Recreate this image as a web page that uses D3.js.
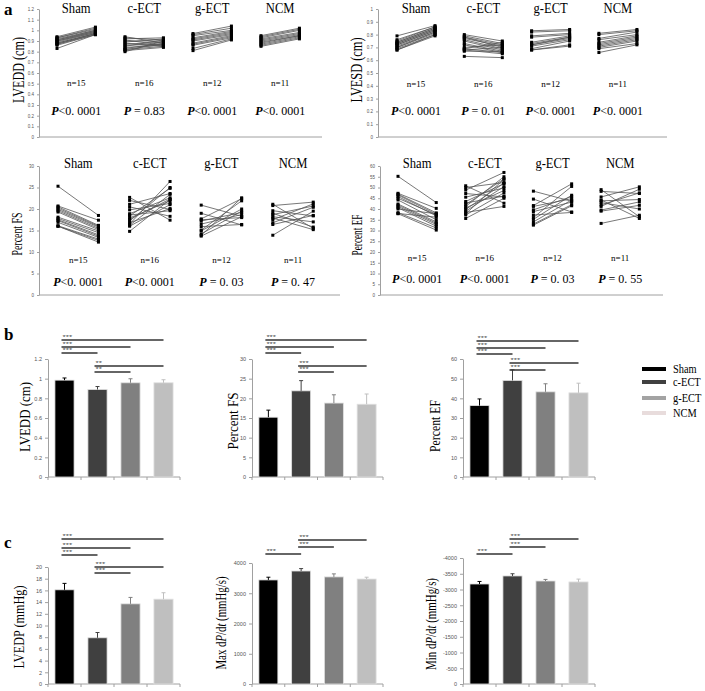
<!DOCTYPE html>
<html>
<head>
<meta charset="utf-8">
<script src="https://cdn.jsdelivr.net/npm/d3@7"></script>
<style>
body { margin: 0; background: #fff; }
svg { display: block; }
text { font-family: "Liberation Serif", "Times New Roman", serif; }
</style>
</head>
<body>
<svg width="705" height="691"></svg>
<script>
// groups and sample sizes
var groups = ["Sham", "c-ECT", "g-ECT", "NCM"];
var groupN = [15, 16, 12, 11];
var barColors = ["#000000", "#404040", "#808080", "#bfbfbf"];
var legendColors = ["#000000", "#404040", "#a3a3a3", "#e8dcdc"];

// panel a - paired values (before / after) per group
var lveddBefore = [
  [0.94, 0.93, 0.93, 0.92, 0.91, 0.91, 0.90, 0.90, 0.89, 0.88, 0.88, 0.87, 0.87, 0.86, 0.83],
  [0.94, 0.93, 0.92, 0.91, 0.90, 0.89, 0.88, 0.87, 0.86, 0.85, 0.84, 0.83, 0.82, 0.82, 0.81, 0.80],
  [0.97, 0.96, 0.95, 0.93, 0.92, 0.91, 0.90, 0.88, 0.87, 0.86, 0.83, 0.81],
  [0.95, 0.94, 0.93, 0.92, 0.91, 0.90, 0.89, 0.88, 0.87, 0.86, 0.85]
];
var lveddAfter = [
  [1.03, 1.02, 1.01, 1.00, 1.00, 0.99, 0.99, 0.98, 0.98, 0.97, 0.97, 0.97, 0.96, 0.96, 0.96],
  [0.88, 0.91, 0.93, 0.86, 0.90, 0.92, 0.85, 0.89, 0.87, 0.91, 0.86, 0.88, 0.87, 0.85, 0.84, 0.90],
  [1.04, 1.02, 1.00, 0.99, 0.98, 0.97, 0.96, 0.95, 0.94, 0.93, 0.92, 0.91],
  [1.02, 1.01, 1.00, 0.98, 0.97, 0.96, 0.95, 0.95, 0.94, 0.93, 0.92]
];
var lveddP = ["<0. 0001", " = 0.83", "<0. 0001", "<0. 0001"];

var lvesdBefore = [
  [0.79, 0.76, 0.75, 0.74, 0.74, 0.73, 0.73, 0.72, 0.72, 0.71, 0.70, 0.70, 0.69, 0.68, 0.68],
  [0.80, 0.79, 0.78, 0.78, 0.77, 0.76, 0.75, 0.73, 0.72, 0.70, 0.69, 0.69, 0.68, 0.68, 0.67, 0.63],
  [0.83, 0.82, 0.79, 0.78, 0.74, 0.73, 0.72, 0.72, 0.71, 0.69, 0.68, 0.68],
  [0.81, 0.80, 0.77, 0.76, 0.74, 0.73, 0.72, 0.71, 0.70, 0.69, 0.66]
];
var lvesdAfter = [
  [0.87, 0.86, 0.86, 0.85, 0.85, 0.84, 0.84, 0.83, 0.83, 0.82, 0.82, 0.81, 0.80, 0.80, 0.79],
  [0.75, 0.73, 0.72, 0.70, 0.71, 0.69, 0.68, 0.67, 0.66, 0.72, 0.74, 0.66, 0.70, 0.65, 0.67, 0.62],
  [0.84, 0.83, 0.81, 0.80, 0.79, 0.78, 0.78, 0.77, 0.76, 0.75, 0.72, 0.71],
  [0.84, 0.83, 0.82, 0.80, 0.79, 0.78, 0.77, 0.76, 0.75, 0.73, 0.72]
];
var lvesdP = ["<0. 0001", " = 0. 01", "<0. 0001", "<0. 0001"];

var fsBefore = [
  [25.3, 20.7, 20.5, 20.2, 19.9, 19.6, 19.3, 18.1, 17.8, 17.5, 17.3, 16.9, 16.1, 16.0, 16.0],
  [22.7, 22.0, 21.1, 20.5, 19.8, 18.9, 18.6, 18.4, 17.9, 17.6, 17.2, 16.8, 16.5, 16.2, 16.0, 14.8],
  [20.9, 19.0, 17.7, 17.5, 17.2, 16.5, 15.9, 15.1, 14.9, 14.2, 13.9, 13.7],
  [21.1, 20.8, 19.6, 19.0, 18.7, 18.2, 17.9, 17.5, 16.8, 16.4, 13.9]
];
var fsAfter = [
  [18.5, 17.4, 16.2, 16.0, 15.8, 15.5, 15.2, 14.9, 14.5, 14.0, 13.7, 13.4, 13.0, 12.7, 12.3],
  [17.4, 19.9, 23.6, 18.3, 21.3, 22.6, 19.6, 24.8, 21.9, 22.3, 25.0, 20.1, 26.4, 23.4, 21.0, 22.2],
  [18.3, 16.3, 22.4, 18.0, 19.2, 18.7, 16.4, 21.9, 20.0, 19.5, 22.6, 18.2],
  [15.5, 21.6, 18.4, 15.8, 20.7, 17.0, 15.2, 21.2, 20.4, 18.5, 19.5]
];
var fsP = ["<0. 0001", "<0. 0001", " = 0. 03", " = 0. 47"];

var efBefore = [
  [55.2, 47.3, 46.9, 46.5, 45.8, 45.0, 44.2, 42.3, 41.8, 41.2, 40.6, 40.0, 38.3, 37.9, 37.8],
  [50.8, 50.0, 48.8, 47.2, 45.5, 43.5, 42.8, 42.0, 41.2, 40.5, 39.8, 39.0, 38.4, 37.8, 37.2, 35.6],
  [48.3, 44.6, 41.6, 41.2, 39.6, 38.8, 37.2, 36.0, 35.2, 34.0, 33.0, 32.5],
  [49.0, 48.2, 45.6, 44.2, 43.8, 43.0, 41.9, 41.2, 39.5, 39.0, 33.3]
];
var efAfter = [
  [43.0, 40.3, 38.2, 37.6, 36.8, 37.3, 35.0, 34.0, 33.4, 32.8, 32.0, 37.8, 31.2, 36.2, 30.2],
  [42.7, 52.3, 57.0, 45.6, 49.8, 51.8, 46.0, 54.0, 55.0, 48.6, 52.0, 50.4, 41.2, 53.8, 47.5, 45.0],
  [43.6, 38.6, 51.7, 44.8, 45.8, 43.2, 38.4, 50.5, 46.4, 44.2, 42.0, 41.5],
  [36.4, 47.2, 50.3, 35.6, 44.4, 40.0, 47.5, 49.2, 43.3, 41.7, 37.1]
];
var efP = ["<0. 0001", "<0. 0001", " = 0. 03", " = 0. 55"];

// panel b - means and SD
var lveddMean = [0.985, 0.89, 0.958, 0.958];
var lveddErr = [0.022, 0.03, 0.041, 0.031];
var fsMean = [15.2, 21.9, 18.8, 18.5];
var fsErr = [1.8, 2.6, 2.1, 2.6];
var efMean = [36.3, 49.1, 43.3, 42.8];
var efErr = [3.4, 5.4, 4.1, 4.9];

// panel c
var lvedpMean = [16.1, 7.9, 13.7, 14.5];
var lvedpErr = [1.1, 0.9, 1.1, 1.1];
var maxMean = [3440, 3735, 3540, 3470];
var maxErr = [90, 80, 100, 60];
var minMean = [-3175, -3430, -3270, -3240];
var minErr = [-80, -70, -50, -90];

// significance comparisons [from, to, label]
var sigLvedd = [[0, 3, "***"], [0, 2, "***"], [0, 1, "***"], [1, 3, "**"], [1, 2, "**"]];
var sigAll = [[0, 3, "***"], [0, 2, "***"], [0, 1, "***"], [1, 3, "***"], [1, 2, "***"]];
var sigDpdt = [[1, 3, "***"], [1, 2, "***"], [0, 1, "***"]];

var svg = d3.select("svg");

function styleAxis(sel, size) {
  sel.select(".domain").attr("stroke", "#a0a0a0");
  sel.selectAll(".tick line").attr("stroke", "#a0a0a0");
  sel.selectAll(".tick text").attr("fill", "#555")
    .style("font-family", "'Liberation Sans', Arial, sans-serif")
    .style("font-size", size + "px");
}

function fmt(d) { return String(+d.toFixed(2)); }

function yLabel(g, o) {
  var t = g.append("text")
    .attr("transform", "translate(" + o.labelX + "," + o.labelY + ") rotate(-90)")
    .attr("text-anchor", "middle")
    .attr("dy", "0.35em")
    .style("font-size", (o.labelSize || 15) + "px")
    .attr("textLength", o.labelLen)
    .attr("lengthAdjust", "spacingAndGlyphs");
  o.label.forEach(function(p) {
    t.append("tspan").style("font-style", p[1] ? "italic" : "normal").text(p[0]);
  });
}

// paired before/after chart (panel a)
function drawPaired(o) {
  var g = svg.append("g");
  var y = d3.scaleLinear().domain(o.domain).range([o.yBot, o.yTop]);
  var x = d3.scaleBand().domain(groups).range([o.x0 + o.off, o.x0 + o.off + 4 * o.step]);
  var pw = o.step * 0.565;

  g.append("g")
    .attr("transform", "translate(" + o.x0 + ",0)")
    .call(d3.axisLeft(y).tickValues(d3.range(0, o.domain[1] + o.tick / 2, o.tick)).tickSize(2).tickSizeOuter(0).tickFormat(fmt))
    .call(styleAxis, 4.5);
  g.append("line")
    .attr("x1", o.x0).attr("x2", o.x1).attr("y1", o.yBot).attr("y2", o.yBot)
    .attr("stroke", "#a0a0a0");

  groups.forEach(function(grp, i) {
    var xb = x(grp), xa = x(grp) + pw;
    var pairs = o.before[i].map(function(v, j) { return [v, o.after[i][j]]; });
    g.selectAll(null).data(pairs).enter().append("line")
      .attr("x1", xb).attr("x2", xa)
      .attr("y1", function(d) { return y(d[0]); })
      .attr("y2", function(d) { return y(d[1]); })
      .attr("stroke", "#555").attr("stroke-width", 0.8);
    g.selectAll(null).data(pairs).enter().append("rect")
      .attr("x", xb - 1.5).attr("y", function(d) { return y(d[0]) - 1.5; })
      .attr("width", 3).attr("height", 3).attr("fill", "#000");
    g.selectAll(null).data(pairs).enter().append("rect")
      .attr("x", xa - 1.5).attr("y", function(d) { return y(d[1]) - 1.5; })
      .attr("width", 3).attr("height", 3).attr("fill", "#000");

    var cx = xb + pw / 2;
    g.append("text").attr("x", cx).attr("y", o.titleY)
      .attr("text-anchor", "middle").style("font-size", "14px")
      .attr("transform", "translate(" + cx + ",0) scale(0.9,1) translate(" + (-cx) + ",0)")
      .text(grp);
    g.append("text").attr("x", cx).attr("y", o.nY)
      .attr("text-anchor", "middle").style("font-size", "9px").text("n=" + groupN[i]);
    var pt = g.append("text").attr("x", cx).attr("y", o.pY)
      .attr("text-anchor", "middle").style("font-size", "12px");
    pt.append("tspan").style("font-style", "italic").style("font-weight", "bold").text("P");
    pt.append("tspan").text(o.p[i]);
  });
  yLabel(g, o);
}

// bar chart with error bars and significance lines (panels b, c)
function drawBars(o) {
  var g = svg.append("g");
  var x = d3.scaleBand().domain(groups).range([o.x0, o.x1]).paddingInner(0.42).paddingOuter(0.21);
  var y = d3.scaleLinear().domain(o.domain).range([o.yBot, o.yTop]);

  g.append("g")
    .attr("transform", "translate(" + o.x0 + ",0)")
    .call(d3.axisLeft(y).tickValues(d3.range(0, o.ticks + 1).map(function(i) { return o.domain[1] / o.ticks * i; }))
      .tickSize(3).tickSizeOuter(0).tickFormat(fmt))
    .call(styleAxis, 5.5);
  g.append("line")
    .attr("x1", o.x0).attr("x2", o.x1).attr("y1", o.yBot).attr("y2", o.yBot)
    .attr("stroke", "#a0a0a0");
  g.selectAll(null).data(d3.range(5)).enter().append("line")
    .attr("x1", function(i) { return o.x0 + i * x.step(); })
    .attr("x2", function(i) { return o.x0 + i * x.step(); })
    .attr("y1", o.yBot).attr("y2", o.yBot + 3)
    .attr("stroke", "#a0a0a0");

  g.selectAll(null).data(groups).enter().append("rect")
    .attr("x", function(d) { return x(d); })
    .attr("y", function(d, i) { return Math.min(y(o.mean[i]), y(0)); })
    .attr("width", x.bandwidth())
    .attr("height", function(d, i) { return Math.abs(y(o.mean[i]) - y(0)); })
    .attr("fill", function(d, i) { return barColors[i]; })
    .attr("stroke", "#e0e0e0").attr("stroke-width", 0.8);

  groups.forEach(function(grp, i) {
    var cx = x(grp) + x.bandwidth() / 2;
    var top = y(o.mean[i] + o.err[i]);
    g.append("line").attr("x1", cx).attr("x2", cx)
      .attr("y1", y(o.mean[i])).attr("y2", top)
      .attr("stroke", barColors[i]).attr("stroke-width", 1);
    g.append("line").attr("x1", cx - 2).attr("x2", cx + 2)
      .attr("y1", top).attr("y2", top)
      .attr("stroke", barColors[i]).attr("stroke-width", 1);
  });

  o.sig.forEach(function(s, k) {
    var xa = x(groups[s[0]]) + x.bandwidth() / 2 - 3;
    var xb = x(groups[s[1]]) + x.bandwidth() / 2;
    var yy = o.sigY[k];
    g.append("line").attr("x1", xa).attr("x2", xb).attr("y1", yy).attr("y2", yy)
      .attr("stroke", "#333").attr("stroke-width", 1.4);
    g.append("text").attr("x", xa + 1).attr("y", yy)
      .attr("dy", "-0.1em")
      .style("font-family", "'Liberation Sans', Arial, sans-serif")
      .style("font-size", "5.5px").attr("fill", "#444")
      .attr("textLength", s[2].length * 3.2).attr("lengthAdjust", "spacingAndGlyphs")
      .text(s[2]);
  });
  yLabel(g, o);
}

// panel letters
[["a", 4, 15], ["b", 4, 340], ["c", 4, 548]].forEach(function(l) {
  svg.append("text").attr("x", l[1]).attr("y", l[2])
    .style("font-size", "17px").style("font-weight", "bold").text(l[0]);
});

// panel a
drawPaired({ x0: 39, x1: 322, yTop: 9, yBot: 137, domain: [0, 1.2], tick: 0.1, off: 18, step: 68,
  before: lveddBefore, after: lveddAfter, p: lveddP, titleY: 13.5, nY: 86, pY: 115,
  label: [["LVEDD (cm)"]], labelX: 18, labelY: 70, labelLen: 66, labelSize: 16 });
drawPaired({ x0: 378, x1: 667, yTop: 9, yBot: 137, domain: [0, 1], tick: 0.1, off: 19, step: 67.3,
  before: lvesdBefore, after: lvesdAfter, p: lvesdP, titleY: 12.5, nY: 87, pY: 115,
  label: [["LVESD (cm)"]], labelX: 356, labelY: 70, labelLen: 65, labelSize: 16 });
drawPaired({ x0: 39, x1: 340, yTop: 166, yBot: 295, domain: [0, 30], tick: 5, off: 19, step: 71.6,
  before: fsBefore, after: fsAfter, p: fsP, titleY: 168, nY: 263, pY: 286,
  label: [["Percent FS"]], labelX: 17, labelY: 234, labelLen: 43, labelSize: 14 });
drawPaired({ x0: 380, x1: 663, yTop: 166, yBot: 295, domain: [0, 60], tick: 5, off: 18, step: 67.7,
  before: efBefore, after: efAfter, p: efP, titleY: 168, nY: 261, pY: 283,
  label: [["Percent EF"]], labelX: 357, labelY: 235, labelLen: 41, labelSize: 14 });

// panel b
drawBars({ x0: 48, x1: 180, yTop: 359, yBot: 477, domain: [0, 1.2], ticks: 6,
  mean: lveddMean, err: lveddErr, sig: sigLvedd, sigY: [340, 347, 353, 366, 372],
  label: [["LVEDD (cm)"]], labelX: 25, labelY: 417, labelLen: 70 });
drawBars({ x0: 252, x1: 383, yTop: 359, yBot: 477, domain: [0, 30], ticks: 6,
  mean: fsMean, err: fsErr, sig: sigAll, sigY: [340, 347, 353, 366, 372],
  label: [["Percent FS"]], labelX: 233, labelY: 421, labelLen: 57 });
drawBars({ x0: 463, x1: 595, yTop: 359, yBot: 477, domain: [0, 60], ticks: 6,
  mean: efMean, err: efErr, sig: sigAll, sigY: [341, 348, 354, 363, 370],
  label: [["Percent EF"]], labelX: 435, labelY: 426, labelLen: 52 });

// legend
var leg = svg.append("g").attr("transform", "translate(642,0)");
var legY = [369, 382, 398, 413];
leg.selectAll(null).data(groups).enter().append("rect")
  .attr("x", 0).attr("y", function(d, i) { return legY[i] - 2; })
  .attr("width", 24).attr("height", 4)
  .attr("fill", function(d, i) { return legendColors[i]; });
leg.selectAll(null).data(groups).enter().append("text")
  .attr("transform", function(d, i) { return "translate(31," + (legY[i] + 4) + ") scale(0.8,1)"; })
  .style("font-size", "13px").text(function(d) { return d; });

// panel c
drawBars({ x0: 48, x1: 180, yTop: 567, yBot: 684, domain: [0, 20], ticks: 10,
  mean: lvedpMean, err: lvedpErr, sig: sigAll, sigY: [539, 548, 555, 567, 573],
  label: [["LVEDP (mmHg)"]], labelX: 19, labelY: 627, labelLen: 83 });
drawBars({ x0: 252, x1: 383, yTop: 563, yBot: 684, domain: [0, 4000], ticks: 4,
  mean: maxMean, err: maxErr, sig: sigDpdt, sigY: [540, 547, 554],
  label: [["Max d"], ["P", 1], ["/d"], ["t", 1], [" (mmHg/s)"]], labelX: 221, labelY: 623, labelLen: 93 });
drawBars({ x0: 463, x1: 595, yTop: 558, yBot: 684, domain: [0, -4000], ticks: 8,
  mean: minMean, err: minErr, sig: sigDpdt, sigY: [539, 547, 554],
  label: [["Min d"], ["P", 1], ["/d"], ["t", 1], [" (mmHg/s)"]], labelX: 431, labelY: 624, labelLen: 92 });
</script>
</body>
</html>
